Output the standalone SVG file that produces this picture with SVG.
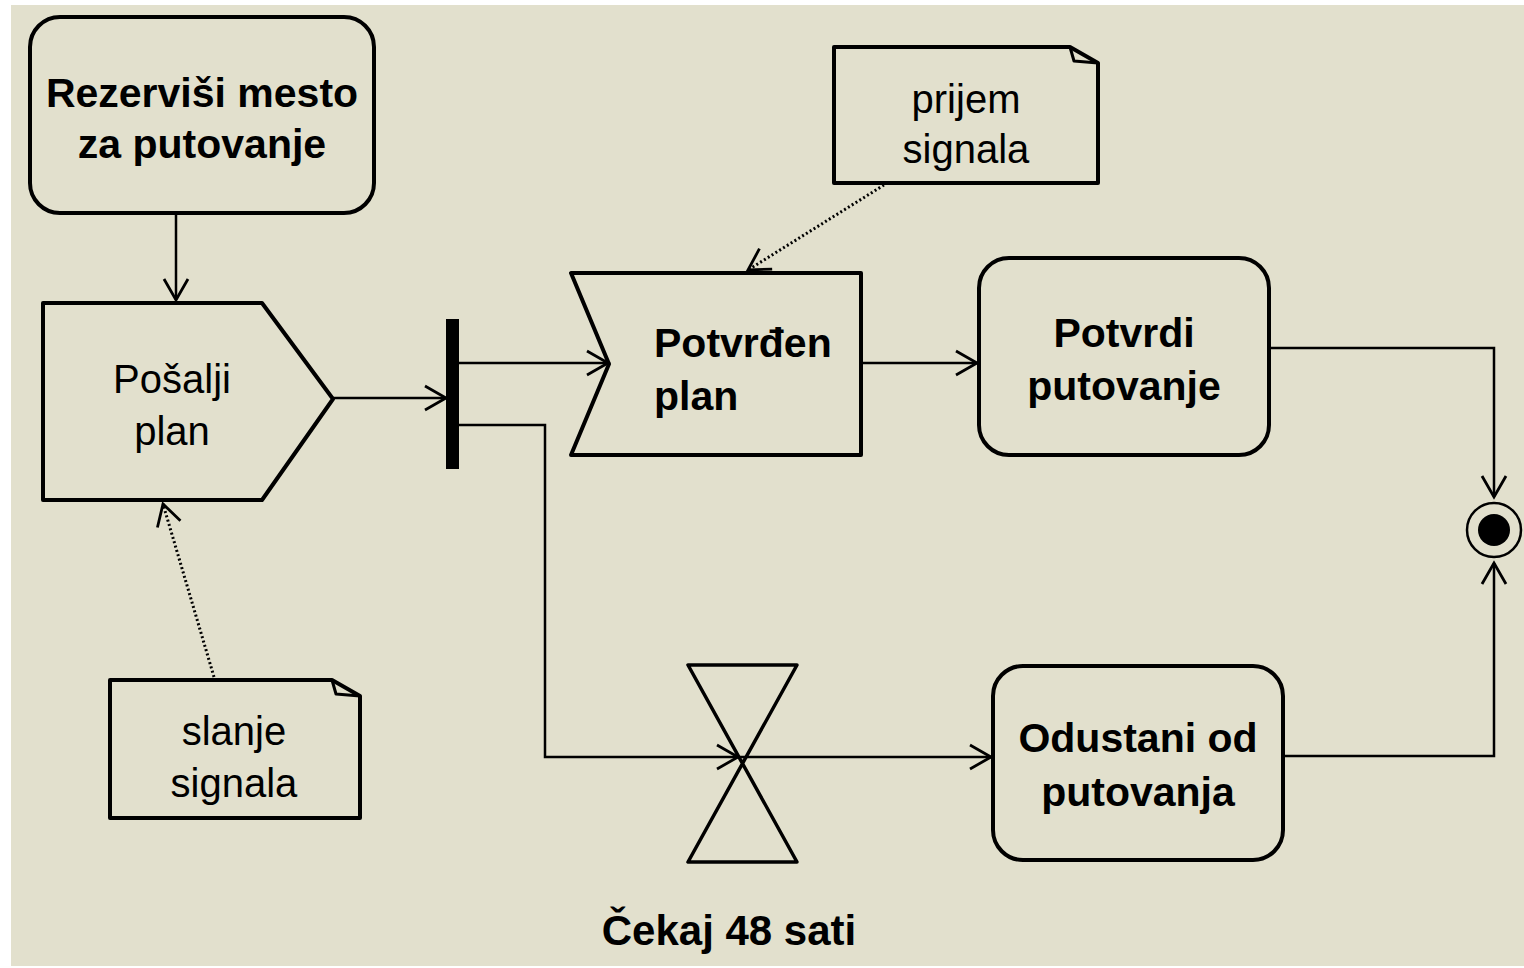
<svg xmlns="http://www.w3.org/2000/svg" width="1524" height="968" viewBox="0 0 1524 968">
<style>
.shape{fill:none;stroke:#000;stroke-width:4;stroke-linejoin:round}
.con{fill:none;stroke:#000;stroke-width:2.5}
.dot{fill:none;stroke:#000;stroke-width:3;stroke-dasharray:2 2.5}
.b{font-family:"Liberation Sans",Arial,sans-serif;font-weight:bold;font-size:41px;fill:#000}
.r{font-family:"Liberation Sans",Arial,sans-serif;font-size:40px;fill:#000}
</style>
<defs>
<marker id="arr" markerUnits="userSpaceOnUse" markerWidth="28" markerHeight="30" refX="23" refY="15" orient="auto" viewBox="0 0 28 30">
<path d="M2,3 L23,15 L2,27" fill="none" stroke="#000" stroke-width="2.8"/>
</marker>
</defs>
<rect width="1524" height="968" fill="#fff"/>
<rect x="11" y="5" width="1513" height="961" fill="#e2e0cd"/>

<g id="connectors">
<line class="con" x1="176" y1="213" x2="176" y2="300" marker-end="url(#arr)"/>
<line class="con" x1="333" y1="398" x2="446" y2="398" marker-end="url(#arr)"/>
<line class="con" x1="459" y1="363" x2="608" y2="363" marker-end="url(#arr)"/>
<polyline class="con" points="459,425 545,425 545,757 738,757" marker-end="url(#arr)"/>
<line class="con" x1="740" y1="757" x2="991" y2="757" marker-end="url(#arr)"/>
<line class="con" x1="861" y1="363" x2="977" y2="363" marker-end="url(#arr)"/>
<polyline class="con" points="1269,348 1494,348 1494,497" marker-end="url(#arr)"/>
<polyline class="con" points="1283,756 1494,756 1494,563" marker-end="url(#arr)"/>
<line class="dot" x1="884" y1="185" x2="748" y2="270" marker-end="url(#arr)"/>
<line class="dot" x1="214" y1="677" x2="163" y2="504" marker-end="url(#arr)"/>
</g>

<g id="rezervisi">
<rect class="shape" x="30" y="17" width="344" height="196" rx="30"/>
<text class="b" x="202" y="107" text-anchor="middle">Rezerviši mesto</text>
<text class="b" x="202" y="158" text-anchor="middle">za putovanje</text>
</g>

<g id="posalji">
<polygon class="shape" points="43,303 262,303 333,399 262,500 43,500"/>
<text class="r" x="172" y="393" text-anchor="middle">Pošalji</text>
<text class="r" x="172" y="445" text-anchor="middle">plan</text>
</g>

<g id="fork">
<rect x="446" y="319" width="13" height="150" fill="#000"/>
</g>

<g id="potvrden">
<polygon class="shape" points="571,273 861,273 861,455 571,455 609,364"/>
<text class="b" x="654" y="357">Potvrđen</text>
<text class="b" x="654" y="410">plan</text>
</g>

<g id="prijem">
<path class="shape" d="M834,47 H1070 L1098,63 V183 H834 Z"/>
<path class="shape" d="M1070,47 L1074,61 L1098,63" style="stroke-width:3"/>
<text class="r" x="966" y="113" text-anchor="middle">prijem</text>
<text class="r" x="966" y="163" text-anchor="middle">signala</text>
</g>

<g id="potvrdi">
<rect class="shape" x="979" y="258" width="290" height="197" rx="30"/>
<text class="b" x="1124" y="347" text-anchor="middle">Potvrdi</text>
<text class="b" x="1124" y="400" text-anchor="middle">putovanje</text>
</g>

<g id="final">
<circle cx="1494" cy="530" r="27" fill="none" stroke="#000" stroke-width="2.5"/>
<circle cx="1494" cy="530" r="16" fill="#000"/>
</g>

<g id="cekaj">
<path class="shape" d="M688,665 H797 L688,862 H797 Z" style="stroke-width:3.5"/>
<text class="b" x="729" y="945" text-anchor="middle" style="font-size:42px">Čekaj 48 sati</text>
</g>

<g id="odustani">
<rect class="shape" x="993" y="666" width="290" height="194" rx="30"/>
<text class="b" x="1138" y="752" text-anchor="middle">Odustani od</text>
<text class="b" x="1138" y="806" text-anchor="middle">putovanja</text>
</g>

<g id="slanje">
<path class="shape" d="M110,680 H332 L360,696 V818 H110 Z"/>
<path class="shape" d="M332,680 L336,694 L360,696" style="stroke-width:3"/>
<text class="r" x="234" y="745" text-anchor="middle">slanje</text>
<text class="r" x="234" y="797" text-anchor="middle">signala</text>
</g>
</svg>
